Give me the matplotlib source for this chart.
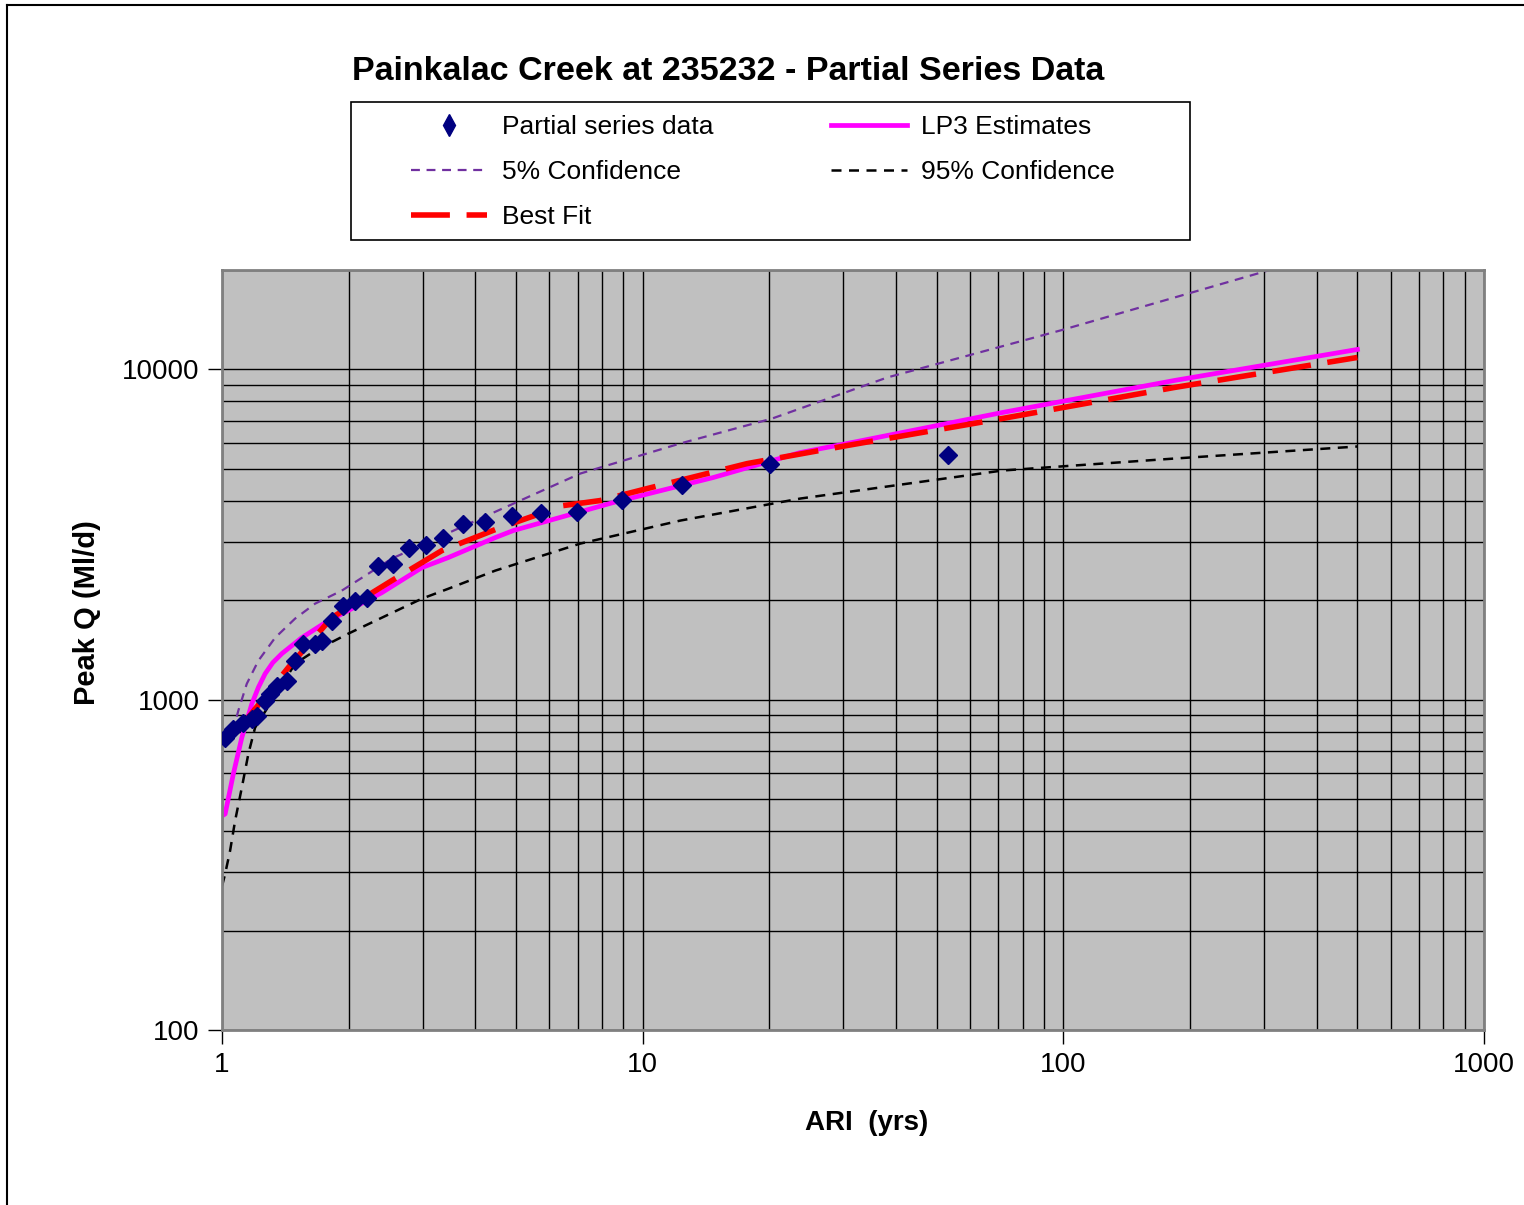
import numpy as np
import matplotlib
matplotlib.use("Agg")
import matplotlib.pyplot as plt
from matplotlib.lines import Line2D
from matplotlib.patches import Rectangle
from matplotlib import ticker

plt.rcParams['font.family'] = ['Liberation Sans', 'DejaVu Sans']

# Partial series data (ARI in years, peak Q in Ml/d)
data_ari = [1.016, 1.062, 1.122, 1.178, 1.211, 1.266, 1.301, 1.351, 1.428, 1.491,
            1.558, 1.664, 1.729, 1.826, 1.940, 2.072, 2.212, 2.350, 2.551, 2.785,
            3.056, 3.355, 3.742, 4.221, 4.893, 5.737, 6.985, 8.940, 12.42, 20.1, 53.3]
data_q = [767, 817, 852, 876, 894, 993, 1043, 1103, 1142, 1313,
          1478, 1478, 1509, 1735, 1927, 1995, 2038, 2547, 2583, 2888,
          2950, 3097, 3415, 3463, 3611, 3687, 3713, 4037, 4482, 5190, 5526]

# LP3 estimates
lp3_ari = [1.0, 1.017, 1.064, 1.114, 1.177, 1.22, 1.266, 1.32, 1.387, 1.547, 1.758, 1.993,
           2.398, 2.985, 3.446, 4.461, 4.921, 8.507, 14.71, 23.69, 30.64, 71.6, 183.6, 500]
lp3_q = [445, 451, 597, 767, 972, 1090, 1199, 1295, 1379, 1541, 1711, 1861,
         2110, 2512, 2693, 3097, 3252, 3954, 4708, 5604, 5969, 7408, 9261, 11497]

# Best fit
fit_ari = [1.153, 1.436, 1.823, 2.532, 3.331, 4.583, 6.470, 7.925, 10.25,
           17.72, 30.64, 71.6, 183.6, 500]
fit_q = [882, 1250, 1772, 2294, 2829, 3320, 3871, 4010, 4360,
         5189, 5886, 7105, 8820, 10873]

# 5% confidence
c5_ari = [1.06, 1.093, 1.145, 1.220, 1.337, 1.491, 1.664, 1.926, 2.228, 2.532,
          4.108, 7.102, 12.28, 20.32, 38.14, 98.4, 307.3, 500]
c5_q = [800, 926, 1118, 1313, 1541, 1760, 1954, 2140, 2409, 2675,
        3536, 4839, 5969, 7105, 9457, 13127, 19953, 23920]

# 95% confidence
c95_ari = [1.0, 1.017, 1.045, 1.074, 1.114, 1.155, 1.198, 1.491, 1.664, 1.995,
           2.398, 2.985, 3.453, 4.461, 7.102, 12.28, 23.69, 71.6, 183.6, 500]
c95_q = [273, 297, 349, 430, 541, 686, 823, 1285, 1408, 1585,
         1772, 2023, 2169, 2460, 2970, 3487, 4066, 4943, 5374, 5845]

W, H = 1524, 1205
fig = plt.figure(figsize=(W / 100, H / 100), dpi=100)
ax = fig.add_axes([0.1457, 0.1452, 0.8281, 0.6307])
ax.set_facecolor('#C0C0C0')

ax.plot(c5_ari, c5_q, color='#7030A0', lw=1.6, dashes=(4, 3), label='5% Confidence')
ax.plot(c95_ari, c95_q, color='black', lw=1.8, dashes=(4, 3), label='95% Confidence')
ax.plot(lp3_ari, lp3_q, color='#FF00FF', lw=3.4, label='LP3 Estimates')
ax.plot(fit_ari, fit_q, color='#FF0000', lw=4, dashes=(7, 3), label='Best Fit')
ax.plot(data_ari, data_q, ls='none', marker='D', ms=9.5, color='#000080',
        label='Partial series data', zorder=5)

ax.set_xscale('log')
ax.set_yscale('log')
ax.set_xlim(1, 1000)
ax.set_ylim(100, 20000)

ax.xaxis.set_major_locator(ticker.FixedLocator([1, 10, 100, 1000]))
ax.yaxis.set_major_locator(ticker.FixedLocator([100, 1000, 10000]))
ax.xaxis.set_major_formatter(ticker.FuncFormatter(lambda v, p: '%d' % round(v)))
ax.yaxis.set_major_formatter(ticker.FuncFormatter(lambda v, p: '%d' % round(v)))
ax.xaxis.set_minor_locator(ticker.LogLocator(base=10, subs=np.arange(2, 10)))
ax.yaxis.set_minor_locator(ticker.LogLocator(base=10, subs=np.arange(2, 10)))
ax.xaxis.set_minor_formatter(ticker.NullFormatter())
ax.yaxis.set_minor_formatter(ticker.NullFormatter())
ax.grid(True, which='both', color='black', lw=1.0)
ax.set_axisbelow(True)
ax.tick_params(which='major', direction='out', length=10, width=1, labelsize=20, pad=6)
ax.tick_params(which='minor', length=0)
for s in ax.spines.values():
    s.set_color('#808080')
    s.set_linewidth(2)

ax.set_xlabel('ARI  (yrs)', fontsize=20, fontweight='bold')
ax.set_ylabel('Peak Q (Ml/d)', fontsize=21, fontweight='bold')
ax.xaxis.set_label_coords(0.511, -0.105)
ax.yaxis.set_label_coords(-0.0959, 0.549)

fig.text(0.478, 0.9405, 'Painkalac Creek at 235232 - Partial Series Data',
         ha='center', va='center', fontsize=24.5, fontweight='bold')

# legend: frame drawn separately, entries placed inside
fig.add_artist(Rectangle((351 / W, 1 - 240 / H), 839 / W, 138 / H, transform=fig.transFigure,
                         facecolor='white', edgecolor='black', lw=1.2))
h = {l.get_label(): l for l in ax.get_lines()}
order = ['Partial series data', '5% Confidence', 'Best Fit', 'LP3 Estimates', '95% Confidence']
handles = []
for k in order:
    if k == 'Partial series data':
        handles.append(Line2D([], [], ls='none', marker='d', ms=11, color='#000080'))
    else:
        handles.append(h[k])
leg = fig.legend(handles, order, loc='upper left', bbox_to_anchor=(411 / W, 1 - 115 / H),
                 ncol=2, fontsize=19, frameon=False, handlelength=2.88, handletextpad=0.55,
                 columnspacing=4.47, labelspacing=0.8, borderpad=0, borderaxespad=0)

# outer chart border (left and top)
fig.add_artist(Line2D([0.0045, 0.0045], [0.0, 0.9958], color='black', lw=1.5))
fig.add_artist(Line2D([0.0045, 1.0], [0.9958, 0.9958], color='black', lw=1.5))

fig.savefig('out.png', dpi=100)
